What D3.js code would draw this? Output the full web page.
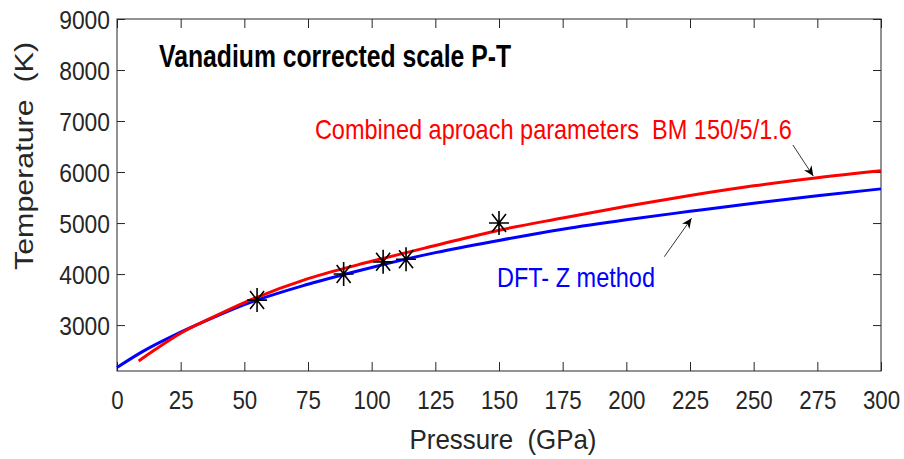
<!DOCTYPE html>
<meta charset="utf-8">
<style>
  body { margin: 0; background: #fff; }
  text { font-family: "Liberation Sans", Arial, sans-serif; white-space: pre; }
</style>
<body>
<script src="https://d3js.org/d3.v7.min.js"></script>
<script>

var margin = { top: 19, right: 23, bottom: 88, left: 117 };
var width = 904 - margin.left - margin.right,
    height = 459 - margin.top - margin.bottom;

// data
var xTicks = [0, 25, 50, 75, 100, 125, 150, 175, 200, 225, 250, 275, 300];
var yTicks = [3000, 4000, 5000, 6000, 7000, 8000, 9000];

var blueP = [0, 10, 25, 37.5, 50, 75, 100, 125, 150, 175, 200, 225, 250, 275, 300];
var blueT = [2170, 2480, 2860, 3140, 3400, 3800, 4130, 4420, 4660, 4880, 5065, 5230, 5390, 5535, 5670];

var redP = [8.5, 15, 25, 37.5, 50, 75, 100, 125, 150, 175, 200, 225, 250, 275, 300];
var redT = [2295, 2520, 2840, 3150, 3440, 3910, 4250, 4560, 4860, 5100, 5330, 5540, 5730, 5890, 6025];

var starP = [55, 89, 104.5, 113.5, 150];
var starT = [3490, 4000, 4240, 4290, 5000];

var x = d3.scaleLinear().domain([0, 300]).range([0, width]);
var y = d3.scaleLinear().domain([2100, 9000]).range([height, 0]);

var axisColor = "#262626";

var svg = d3.select("body").append("svg")
    .attr("width", width + margin.left + margin.right)
    .attr("height", height + margin.top + margin.bottom)
  .append("g")
    .attr("transform", "translate(" + margin.left + "," + margin.top + ")");

// box
svg.append("rect")
    .attr("width", width).attr("height", height)
    .attr("fill", "none").attr("stroke", axisColor).attr("stroke-width", 1);

// ticks on all four sides, pointing in
var styleAxis = function (g) {
    g.select(".domain").remove();
    g.selectAll(".tick line").attr("stroke", axisColor);
    g.selectAll("text").attr("fill", axisColor).style("font-size", "26px");
};

svg.append("g")
    .attr("transform", "translate(0," + height + ")")
    .call(d3.axisBottom(x).tickValues(xTicks).tickSize(-9).tickPadding(20))
    .call(styleAxis)
    .selectAll("text")
      .attr("textLength", function (d) { return String(d).length * 12.4; })
      .attr("lengthAdjust", "spacingAndGlyphs");

svg.append("g")
    .call(d3.axisTop(x).tickValues(xTicks).tickSize(-9).tickFormat(""))
    .call(styleAxis);

svg.append("g")
    .call(d3.axisLeft(y).tickValues(yTicks).tickSize(-8).tickPadding(7).tickFormat(d3.format("d")))
    .call(styleAxis)
    .selectAll("text")
      .attr("dy", "0.36em")
      .attr("textLength", function (d) { return String(d).length * 12.7; })
      .attr("lengthAdjust", "spacingAndGlyphs");

svg.append("g")
    .attr("transform", "translate(" + width + ",0)")
    .call(d3.axisRight(y).tickValues(yTicks).tickSize(-8).tickFormat(""))
    .call(styleAxis);

// axis titles
svg.append("text")
    .attr("x", 503 - margin.left).attr("y", 449 - margin.top)
    .attr("text-anchor", "middle")
    .attr("fill", axisColor)
    .style("font-size", "28px")
    .attr("textLength", 187).attr("lengthAdjust", "spacingAndGlyphs")
    .text("Pressure  (GPa)");

svg.append("text")
    .attr("transform", "translate(" + (33 - margin.left) + "," + (156 - margin.top) + ") rotate(-90)")
    .attr("text-anchor", "middle")
    .attr("fill", axisColor)
    .style("font-size", "25px")
    .attr("textLength", 228).attr("lengthAdjust", "spacingAndGlyphs")
    .text("Temperature  (K)");

// curves
var line = d3.line()
    .x(function (d) { return x(d[0]); })
    .y(function (d) { return y(d[1]); })
    .curve(d3.curveMonotoneX);

svg.append("path")
    .datum(d3.zip(blueP, blueT))
    .attr("d", line)
    .attr("fill", "none").attr("stroke", "#0000ff").attr("stroke-width", 3);

svg.append("path")
    .datum(d3.zip(redP, redT))
    .attr("d", line)
    .attr("fill", "none").attr("stroke", "#ff0000").attr("stroke-width", 3);

// asterisk markers
svg.selectAll(".star")
    .data(d3.zip(starP, starT))
  .enter().append("path")
    .attr("class", "star")
    .attr("transform", function (d) { return "translate(" + x(d[0]) + "," + y(d[1]) + ")"; })
    .attr("d", "M-10,0H10M0,-12V12M-7,-9L7,9M-7,9L7,-9")
    .attr("stroke", "#000").attr("stroke-width", 1.6).attr("fill", "none");

// text annotations
svg.append("text")
    .attr("x", x(16.5)).attr("y", y(8060))
    .style("font-size", "32px").style("font-weight", "bold")
    .attr("textLength", 352).attr("lengthAdjust", "spacingAndGlyphs")
    .text("Vanadium corrected scale P-T");

svg.append("text")
    .attr("x", x(77.7)).attr("y", y(6657))
    .attr("fill", "#ff0000")
    .style("font-size", "28px")
    .attr("textLength", 477).attr("lengthAdjust", "spacingAndGlyphs")
    .text("Combined aproach parameters  BM 150/5/1.6");

svg.append("text")
    .attr("x", x(149.2)).attr("y", y(3746))
    .attr("fill", "#0000ff")
    .style("font-size", "28px")
    .attr("textLength", 158).attr("lengthAdjust", "spacingAndGlyphs")
    .text("DFT- Z method");

// arrows
svg.append("defs").append("marker")
    .attr("id", "head")
    .attr("viewBox", "0 -5 10 10")
    .attr("refX", 10).attr("refY", 0)
    .attr("markerWidth", 10).attr("markerHeight", 10)
    .attr("markerUnits", "userSpaceOnUse")
    .attr("orient", "auto")
  .append("path")
    .attr("d", "M0,-4.5L10,0L0,4.5L3,0Z")
    .attr("fill", "#000");

var arrows = [
    { p1: 265.4, t1: 6530, p2: 273.4, t2: 5922 },
    { p1: 214.9, t1: 4340, p2: 225.6, t2: 5093 }
];

svg.selectAll(".arrow")
    .data(arrows)
  .enter().append("line")
    .attr("class", "arrow")
    .attr("x1", function (d) { return x(d.p1); })
    .attr("y1", function (d) { return y(d.t1); })
    .attr("x2", function (d) { return x(d.p2); })
    .attr("y2", function (d) { return y(d.t2); })
    .attr("stroke", "#000").attr("stroke-width", 0.8)
    .attr("marker-end", "url(#head)");

</script>
</body>
